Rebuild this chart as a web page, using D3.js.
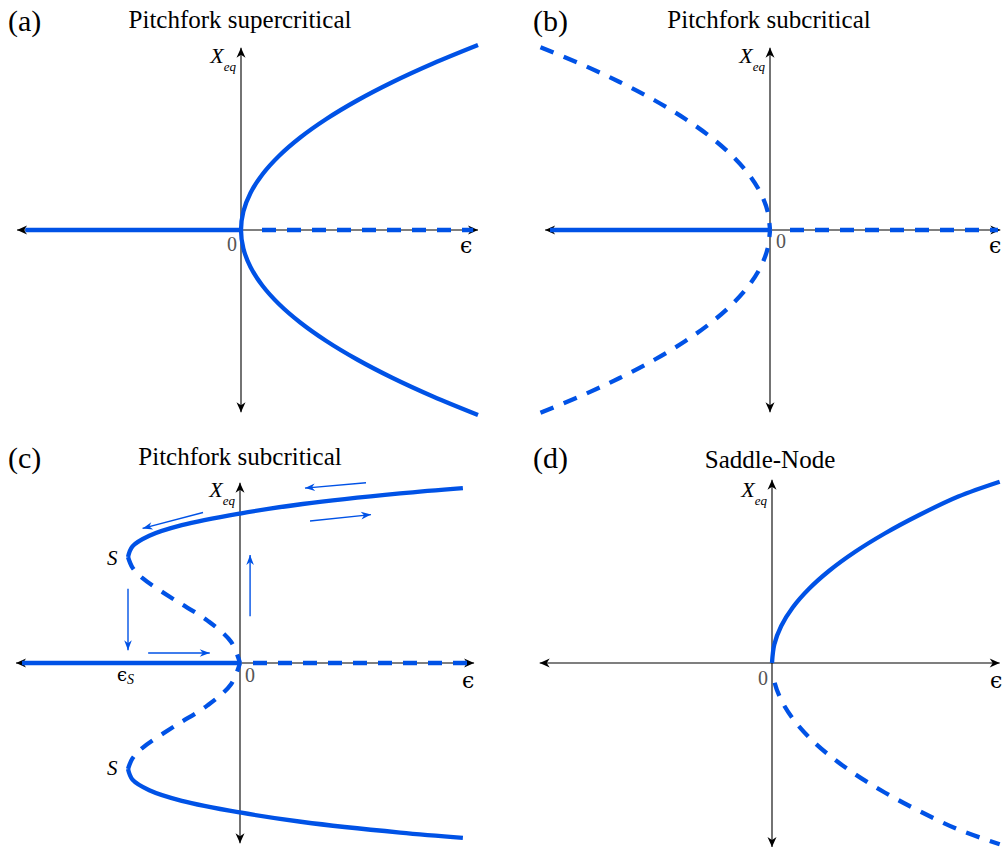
<!DOCTYPE html>
<html>
<head>
<meta charset="utf-8">
<script src="https://cdn.jsdelivr.net/npm/d3@7"></script>
<style>
  body { margin: 0; background: #fff; }
  svg { display: block; }
</style>
</head>
<body>
<svg id="fig" width="1002" height="852"></svg>
<script>
// ---------- data ----------
const panelIds = ["a", "b", "c", "d"];
const panelTitles = ["Pitchfork supercritical", "Pitchfork subcritical", "Pitchfork subcritical", "Saddle-Node"];

// pitchfork branch samples: amplitude X and the control value eps where it sits
const pfX   = [0, 0.1, 0.2, 0.3, 0.4, 0.5, 0.6, 0.7, 0.8, 0.9, 1.0];
const pfEps = [0, 0.01, 0.04, 0.09, 0.16, 0.25, 0.36, 0.49, 0.64, 0.81, 1.0];

// panel (c): unstable part (origin -> S) and stable part (S -> right)
const cUnstX   = [0, 0.2, 0.4, 0.6, 0.8, 0.9, 1.0];
const cUnstEps = [0, -0.08, -0.29, -0.59, -0.87, -0.96, -1.0];
const cStabX   = [1.0, 1.1, 1.2, 1.3, 1.41, 1.5, 1.6, 1.65];
const cStabEps = [-1.0, -0.96, -0.81, -0.52, 0, 0.56, 1.43, 1.99];

// panel (d): saddle-node branch samples
const snX   = [0, 0.1, 0.2, 0.3, 0.4, 0.5, 0.6, 0.7, 0.8, 0.9, 0.98];
const snEps = [0, 0.01, 0.04, 0.09, 0.16, 0.25, 0.36, 0.49, 0.64, 0.81, 0.99];

// hysteresis loop arrows in panel (c): [eps0, X0, eps1, X1]
const hystArrows = [
  [1.125, 1.70, 0.58, 1.65],
  [0.625, 1.34, 1.17, 1.40],
  [-0.33, 1.42, -0.87, 1.27],
  [-1.0, 0.70, -1.0, 0.12],
  [-0.82, 0.094, -0.27, 0.094],
  [0.09, 0.44, 0.09, 1.02]
];

// ---------- layout ----------
const BLUE = "#0052e6";
const SERIF = "'Liberation Serif', 'Times New Roman', Times, 'DejaVu Serif', serif";
const GREEK = "'DejaVu Serif', 'Liberation Serif', serif";
const layout = {
  a: { ox: 241, oy: 230, ux: 237, uy: 185, h: [-0.945, 1.0], v: [-0.985, 0.985], solidFrom: -0.91, dashTo: 0.98, dashLead: 21 },
  b: { ox: 770, oy: 230, ux: 235, uy: 185, h: [-0.957, 0.98], v: [-0.985, 0.985], solidFrom: -0.936, dashTo: 0.97, dashLead: 20 },
  c: { ox: 240, oy: 663, ux: 112, uy: 106, h: [-2.0, 2.09], v: [-1.70, 1.70], solidFrom: -1.946, dashTo: 2.05, dashLead: 13 },
  d: { ox: 772, oy: 663, ux: 230, uy: 185, h: [-1.01, 0.99], v: [-0.995, 0.99] }
};
const labelPos = {
  a: { px: 8,   py: 31,  tx: 240, ty: 28,  zx: 237, zy: 251, za: "end",   ex: 460, ey: 253, xy: 63 },
  b: { px: 533, py: 31,  tx: 769, ty: 28,  zx: 776, zy: 248, za: "start", ex: 989, ey: 253, xy: 63 },
  c: { px: 8,   py: 468, tx: 240, ty: 465, zx: 245, zy: 682, za: "start", ex: 462, ey: 688, xy: 497 },
  d: { px: 533, py: 468, tx: 770, ty: 468, zx: 768, zy: 685, za: "end",   ex: 990, ey: 688, xy: 497 }
};

const svg = d3.select("#fig").attr("font-family", SERIF);
svg.append("rect").attr("width", 1002).attr("height", 852).attr("fill", "#fff");

// arrowhead markers
const defs = svg.append("defs");
function marker(id, color, len, half, notch) {
  defs.append("marker")
    .attr("id", id)
    .attr("viewBox", `${-len - 1} ${-half - 1} ${len + 2} ${2 * half + 2}`)
    .attr("refX", 0).attr("refY", 0)
    .attr("markerUnits", "userSpaceOnUse")
    .attr("markerWidth", len + 2).attr("markerHeight", 2 * half + 2)
    .attr("orient", "auto-start-reverse")
    .append("path")
    .attr("d", `M0,0 L${-len},${-half} L${-len + notch},0 L${-len},${half} Z`)
    .attr("fill", color);
}
marker("axisHead", "#000", 10, 4.5, 3);
marker("blueHead", BLUE, 10, 3.8, 3);

// dash pattern that may begin with a gap
function dashes(lead, first) {
  const seq = [];
  if (lead > 0) seq.push(0, lead);
  seq.push(first, 11);
  for (let i = 0; i < 30; i++) seq.push(14, 11);
  return seq.join(",");
}

panelIds.forEach((id, i) => {
  const L = layout[id], P = labelPos[id];
  const x = d3.scaleLinear().domain([0, 1]).range([L.ox, L.ox + L.ux]);
  const y = d3.scaleLinear().domain([0, 1]).range([L.oy, L.oy - L.uy]);
  const g = svg.append("g").attr("class", "panel-" + id);
  const line = d3.line().x(d => x(d[0])).y(d => y(d[1])).curve(d3.curveCatmullRom.alpha(0.5));

  // axes
  g.append("line")
    .attr("x1", x(L.h[0])).attr("x2", x(L.h[1])).attr("y1", y(0)).attr("y2", y(0))
    .attr("stroke", "#000").attr("stroke-width", 1.1)
    .attr("marker-start", "url(#axisHead)").attr("marker-end", "url(#axisHead)");
  g.append("line")
    .attr("x1", x(0)).attr("x2", x(0)).attr("y1", y(L.v[0])).attr("y2", y(L.v[1]))
    .attr("stroke", "#000").attr("stroke-width", 1.1)
    .attr("marker-start", "url(#axisHead)").attr("marker-end", "url(#axisHead)");

  const solid = pts => g.append("path").attr("d", line(pts)).attr("fill", "none")
    .attr("stroke", BLUE).attr("stroke-width", 4.3).attr("stroke-linecap", "butt");
  const dashed = (pts, lead, first) => solid(pts).attr("stroke-dasharray", dashes(lead, first));

  // trivial equilibrium X = 0
  if (L.solidFrom !== undefined) {
    solid([[L.solidFrom, 0], [0, 0]]);
    dashed([[0, 0], [L.dashTo, 0]], L.dashLead, 14);
  }

  if (id === "a") {
    const pts = pfX.slice().reverse().map((v, k) => [pfEps[pfX.length - 1 - k], -v])
      .concat(pfX.slice(1).map((v, k) => [pfEps[k + 1], v]));
    solid(pts);
  }
  if (id === "b") {
    dashed(pfX.map((v, k) => [-pfEps[k], v]), 0, 7);
    dashed(pfX.map((v, k) => [-pfEps[k], -v]), 0, 7);
  }
  if (id === "c") {
    [1, -1].forEach(s => {
      dashed(cUnstX.map((v, k) => [cUnstEps[k], s * v]), 0, 9);
      solid(cStabX.map((v, k) => [cStabEps[k], s * v]));
    });
    hystArrows.forEach(a => {
      g.append("line")
        .attr("x1", x(a[0])).attr("y1", y(a[1])).attr("x2", x(a[2])).attr("y2", y(a[3]))
        .attr("stroke", BLUE).attr("stroke-width", 1.4)
        .attr("marker-end", "url(#blueHead)");
    });
    g.append("text").attr("x", 107).attr("y", 565).attr("font-size", 21)
      .attr("font-style", "italic").text("S");
    g.append("text").attr("x", 107).attr("y", 775).attr("font-size", 21)
      .attr("font-style", "italic").text("S");
    const es = g.append("text").attr("x", 117).attr("y", 681).attr("font-size", 18);
    es.append("tspan").attr("font-family", GREEK).text("ϵ");
    es.append("tspan").attr("font-size", 14).attr("font-style", "italic").attr("dy", 3).text("S");
  }
  if (id === "d") {
    solid(snX.map((v, k) => [snEps[k], v]));
    dashed(snX.map((v, k) => [snEps[k], -v]), 20, 14);
  }

  // labels
  g.append("text").attr("x", P.px).attr("y", P.py).attr("font-size", 30).text(`(${id})`);
  g.append("text").attr("x", P.tx).attr("y", P.ty).attr("font-size", 25)
    .attr("text-anchor", "middle").text(panelTitles[i]);
  const xl = g.append("text").attr("x", L.ox - 5).attr("y", P.xy).attr("text-anchor", "end");
  xl.append("tspan").attr("font-size", 22).attr("font-style", "italic").text("X");
  xl.append("tspan").attr("font-size", 13).attr("font-style", "italic").attr("dy", 8).text("eq");
  g.append("text").attr("x", P.zx).attr("y", P.zy).attr("font-size", 20)
    .attr("fill", "#555").attr("text-anchor", P.za).text("0");
  g.append("text").attr("x", P.ex).attr("y", P.ey).attr("font-size", 22)
    .attr("font-family", GREEK).text("ϵ");
});
</script>
</body>
</html>
